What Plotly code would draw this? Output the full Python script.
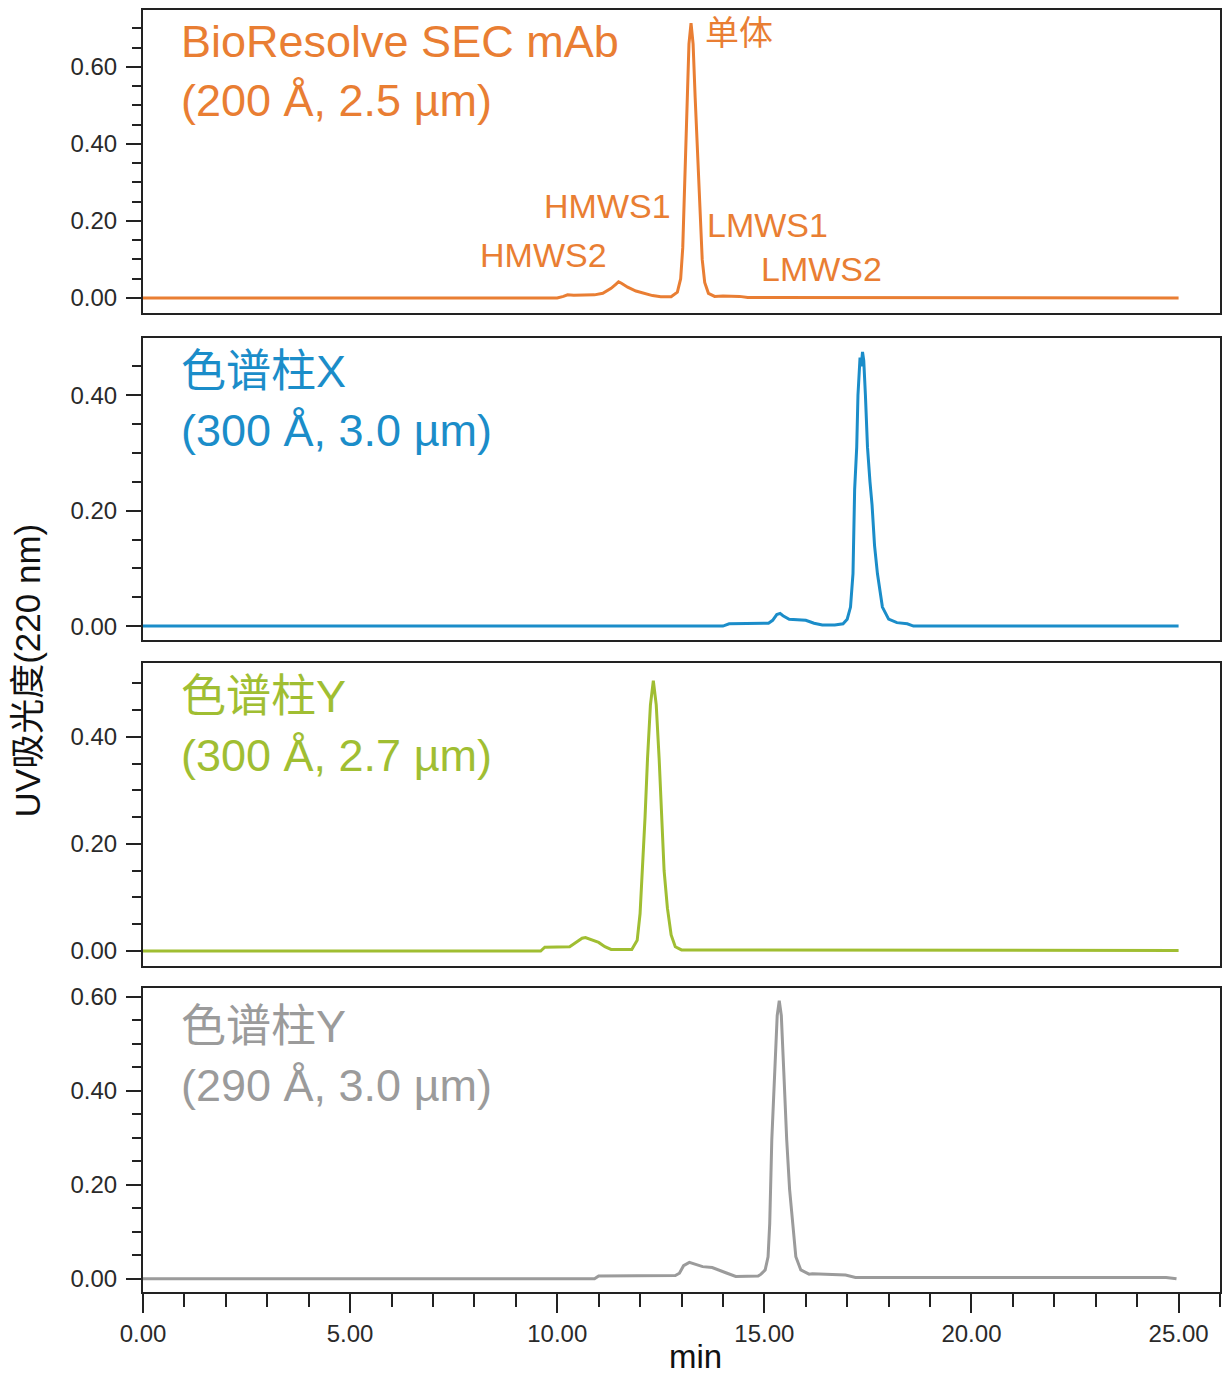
import plotly.graph_objects as go
from plotly.subplots import make_subplots

# ---------------- data (retention time in min, UV absorbance) ----------------
t_bio = [0, 10.0, 10.15, 10.25, 10.4, 10.6, 10.9, 11.1, 11.3, 11.42, 11.48, 11.55, 11.7, 11.9,
         12.1, 12.3, 12.5, 12.75, 12.9, 12.98, 13.03, 13.08, 13.13, 13.18, 13.23, 13.28, 13.33,
         13.39, 13.45, 13.5, 13.56, 13.65, 13.8, 14.0, 14.4, 14.6, 25.0]
a_bio = [0.0, 0.0, 0.004, 0.008, 0.007, 0.007, 0.008, 0.012, 0.025, 0.036, 0.042, 0.038, 0.028, 0.018,
         0.011, 0.006, 0.003, 0.003, 0.015, 0.05, 0.13, 0.30, 0.52, 0.66, 0.714, 0.66, 0.52,
         0.36, 0.20, 0.10, 0.04, 0.012, 0.004, 0.005, 0.004, 0.001, 0.0]

t_x = [0, 14.0, 14.15, 14.6, 15.1, 15.2, 15.3, 15.38, 15.45, 15.6, 15.8, 16.0, 16.2, 16.4, 16.7,
       16.9, 17.0, 17.08, 17.14, 17.18, 17.23, 17.26, 17.31, 17.34, 17.37, 17.40, 17.44, 17.49,
       17.55, 17.60, 17.66, 17.73, 17.85, 18.0, 18.2, 18.45, 18.6, 25.0]
a_x = [0, 0, 0.004, 0.004, 0.005, 0.010, 0.020, 0.022, 0.018, 0.012, 0.011, 0.010, 0.005, 0.002, 0.002,
       0.004, 0.012, 0.033, 0.091, 0.237, 0.31, 0.40, 0.465, 0.45, 0.475, 0.46, 0.40, 0.31,
       0.25, 0.21, 0.14, 0.091, 0.033, 0.012, 0.006, 0.004, 0.0, 0.0]

t_y1 = [0, 9.6, 9.7, 10.3, 10.45, 10.6, 10.68, 10.8, 11.0, 11.15, 11.3, 11.8, 11.93, 12.0, 12.06,
        12.12, 12.18, 12.25, 12.32, 12.39, 12.46, 12.52, 12.58, 12.66, 12.75, 12.85, 13.0, 25.0]
a_y1 = [0, 0, 0.007, 0.008, 0.016, 0.024, 0.025, 0.022, 0.016, 0.008, 0.003, 0.003, 0.02, 0.07, 0.15,
        0.25, 0.36, 0.46, 0.505, 0.46, 0.36, 0.25, 0.15, 0.08, 0.03, 0.008, 0.002, 0.001]

t_y2 = [0, 10.9, 11.0, 12.85, 12.95, 13.05, 13.19, 13.3, 13.51, 13.74, 13.9, 14.07, 14.31, 14.85,
        14.92, 15.02, 15.09, 15.13, 15.18, 15.25, 15.31, 15.36, 15.41, 15.47, 15.54, 15.61, 15.68,
        15.76, 15.88, 16.08, 16.16, 16.52, 16.72, 16.96, 17.2, 24.7, 24.95]
a_y2 = [0, 0, 0.006, 0.007, 0.012, 0.028, 0.035, 0.032, 0.026, 0.024, 0.018, 0.013, 0.005, 0.006,
        0.010, 0.019, 0.047, 0.118, 0.296, 0.45, 0.56, 0.592, 0.56, 0.44, 0.296, 0.19, 0.118,
        0.047, 0.019, 0.010, 0.011, 0.010, 0.009, 0.008, 0.003, 0.003, 0.0]

series = [
    (t_bio, a_bio, "#E97E33", "BioResolve SEC mAb<br>(200 Å, 2.5 µm)"),
    (t_x, a_x, "#1B8DC9", "色谱柱X<br>(300 Å, 3.0 µm)"),
    (t_y1, a_y1, "#A0BE32", "色谱柱Y<br>(300 Å, 2.7 µm)"),
    (t_y2, a_y2, "#9B9B9B", "色谱柱Y<br>(290 Å, 3.0 µm)"),
]

peak_labels = ["单体", "HMWS1", "HMWS2", "LMWS1", "LMWS2"]
peak_label_t = [14.39, 11.21, 9.67, 15.07, 16.39]
peak_label_a = [0.688, 0.239, 0.112, 0.19, 0.075]

y_ranges = [[-0.039, 0.748], [-0.024, 0.499], [-0.028, 0.538], [-0.028, 0.619]]
domains = [[0.7637, 1.0], [0.5086, 0.7441], [0.2543, 0.4906], [0.0, 0.2371]]
title_ypos = [0.80, 0.79, 0.792, 0.775]

FONT = "Liberation Sans, Arial, Noto Sans CJK SC, sans-serif"
AXC = "#222222"

fig = make_subplots(rows=4, cols=1, shared_xaxes=True, vertical_spacing=0.02)

for i, (t, a, col, name) in enumerate(series):
    r = i + 1
    fig.add_trace(go.Scatter(x=t, y=a, mode="lines", line=dict(color=col, width=3),
                             showlegend=False, hoverinfo="skip"), row=r, col=1)
    fig.update_yaxes(row=r, col=1, range=y_ranges[i], domain=domains[i],
                     tickmode="linear", tick0=0, dtick=0.2, tickformat=".2f",
                     ticks="outside", ticklen=15, tickwidth=2, tickcolor=AXC,
                     minor=dict(dtick=0.05, tick0=0, ticks="outside", ticklen=9,
                                tickwidth=2, tickcolor=AXC),
                     showline=True, linecolor=AXC, linewidth=2, mirror=True,
                     showgrid=False, zeroline=False, ticklabelstandoff=4,
                     tickfont=dict(family=FONT, size=24, color="#2a2a2a"))
    fig.update_xaxes(row=r, col=1, range=[0, 26], showline=True, linecolor=AXC,
                     linewidth=2, mirror=True, showgrid=False, zeroline=False)
    yref = "y" if r == 1 else f"y{r}"
    xref = "x" if r == 1 else f"x{r}"
    fig.add_annotation(text=name, xref=f"{xref} domain", yref=f"{yref} domain",
                       x=0.033, y=title_ypos[i], xanchor="left", yanchor="middle",
                       align="left", showarrow=False,
                       font=dict(family=FONT, size=45, color=col))

for lab, t, a in zip(peak_labels, peak_label_t, peak_label_a):
    fig.add_annotation(text=lab, x=t, y=a, xref="x", yref="y", showarrow=False,
                       xanchor="center", yanchor="middle",
                       font=dict(family=FONT, size=34, color=series[0][2]))

fig.update_xaxes(row=4, col=1, tickmode="linear", tick0=0, dtick=5, tickformat=".2f",
                 ticks="outside", ticklen=19, tickwidth=2, tickcolor=AXC,
                 minor=dict(dtick=1, ticks="outside", ticklen=13, tickwidth=2, tickcolor=AXC),
                 tickfont=dict(family=FONT, size=24, color="#2a2a2a"))

fig.add_annotation(text="min", xref="paper", yref="paper", x=(697 - 143) / 1079, y=-64 / 1282,
                   showarrow=False, xanchor="center", yanchor="middle",
                   font=dict(family=FONT, size=33, color="#111111"))

fig.add_annotation(text="UV吸光度(220 nm)", xref="paper", yref="paper", x=-0.1075, y=0.485,
                   textangle=-90, showarrow=False, xanchor="center", yanchor="middle",
                   font=dict(family=FONT, size=35, color="#111111"))

fig.update_layout(width=1227, height=1376, margin=dict(l=143, r=5, t=10, b=84),
                  plot_bgcolor="white", paper_bgcolor="white")

fig.write_html("out.html")
